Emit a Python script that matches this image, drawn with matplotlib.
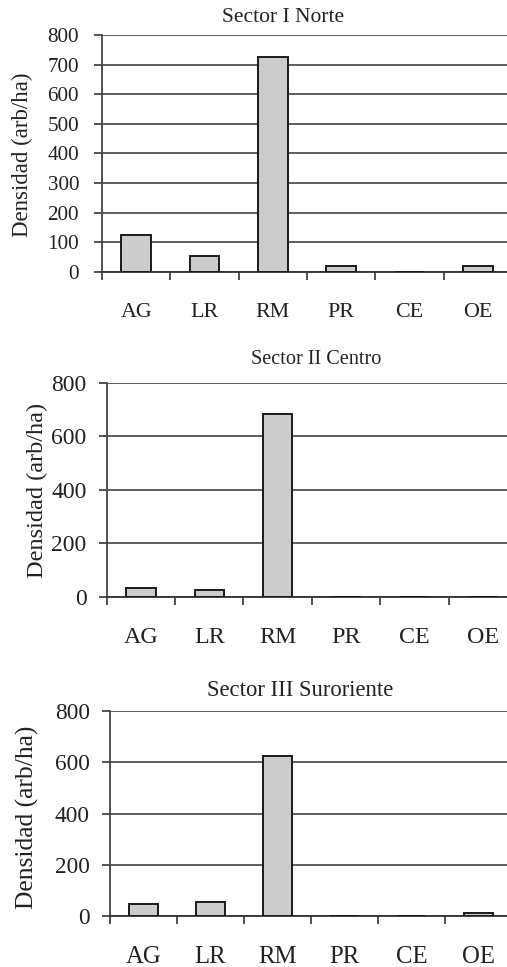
import numpy as np
import matplotlib.pyplot as plt

categorias = ["AG", "LR", "RM", "PR", "CE", "OE"]
norte = [126, 53, 727, 19, 0, 19]
centro = [31, 25, 683, 0, 0, 0]
suroriente = [47, 55, 625, 0, 0, 10]

titulos = ["Sector I Norte", "Sector II Centro", "Sector III Suroriente"]
series = [norte, centro, suroriente]
pasos = [100, 200, 200]

plt.rcParams['font.family'] = ['Liberation Serif', 'DejaVu Serif']

W, H = 507, 967
fig = plt.figure(figsize=(W / 100, H / 100), dpi=100)

# panel boxes in pixels: left, right, top, bottom
cajas = [(102, 512, 35, 272), (106.7, 517, 382.7, 596.7), (110, 512, 711, 916)]
titulo_pos = [(283, 17), (316, 359), (300, 690)]
ylab_pos = [(22, 155), (37, 490), (27, 817)]
tam_tick = [15.2, 17, 16.8]
tam_xlab = [15.8, 17.3, 17.8]
tam_tit = [15.5, 14.6, 16.3]
tam_ylab = [16.5, 17.5, 18.4]
pad_y = [10.5, 8.5, 8.5]
pad_x = [22.5, 21.5, 21.5]

for i in range(3):
    l, r, t, b = cajas[i]
    ax = fig.add_axes([l / W, 1 - b / H, (r - l) / W, (b - t) / H])
    x = np.arange(len(categorias))
    ax.bar(x, series[i], width=0.43, color="#cccccc", edgecolor="#1a1a1a",
           linewidth=1.4, zorder=3)
    ax.set_xlim(-0.5, 5.5)
    ax.set_ylim(0, 800)
    ax.set_yticks(np.arange(0, 801, pasos[i]))
    ax.tick_params(axis="y", labelsize=tam_tick[i], length=6, width=1.2,
                   color="#333333", labelcolor="#222222", pad=pad_y[i])
    ax.set_xticks(np.arange(-0.5, 6, 1))
    ax.set_xticklabels([])
    ax.set_xticks(x, minor=True)
    ax.set_xticklabels(categorias, minor=True)
    ax.tick_params(axis="x", which="major", length=6, width=1.2, color="#333333")
    ax.tick_params(axis="x", which="minor", length=0, pad=pad_x[i],
                   labelsize=tam_xlab[i], labelcolor="#222222")
    ax.grid(axis="y", color="#333333", linewidth=1.1, zorder=0)
    for s in ["top", "right"]:
        ax.spines[s].set_visible(False)
    ax.spines["left"].set_color("#444444")
    ax.spines["left"].set_linewidth(1.3)
    ax.spines["bottom"].set_color("#333333")
    ax.spines["bottom"].set_linewidth(1.3)
    fig.text(titulo_pos[i][0] / W, 1 - titulo_pos[i][1] / H, titulos[i],
             ha="center", va="center", fontsize=tam_tit[i], color="#222222")
    fig.text(ylab_pos[i][0] / W, 1 - ylab_pos[i][1] / H, "Densidad (arb/ha)",
             ha="center", va="center", rotation=90, fontsize=tam_ylab[i],
             color="#222222")

fig.savefig("out.png", dpi=100)
